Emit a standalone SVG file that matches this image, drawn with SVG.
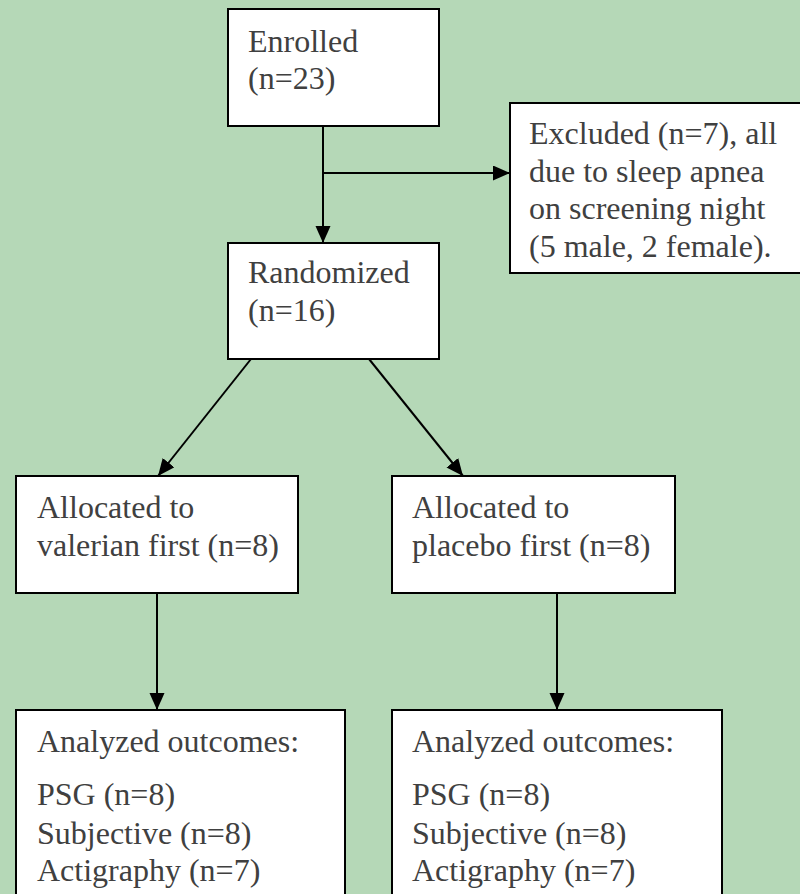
<svg xmlns="http://www.w3.org/2000/svg" width="800" height="894" viewBox="0 0 800 894">
<style>
.box{fill:#ffffff;stroke:#000000;stroke-width:2}
.lbl{font-size:32px;fill:#404040}
.conn{stroke:#000000;stroke-width:2;fill:none}
.f1{font-family:"Liberation Serif",serif}
.f2{font-family:"DejaVu Serif",serif}
.f6{font-family:serif}
</style>
<defs>
<marker id="arr" markerUnits="userSpaceOnUse" markerWidth="18" markerHeight="16" refX="17" refY="7.5" orient="auto">
<path d="M0,0 L17,7.5 L0,15 z" fill="#000000"/>
</marker>
</defs>
<g id="background">
<rect x="0" y="0" width="800" height="894" fill="#b5d8b7"/>
</g>
<g id="connectors">
<line class="conn" x1="323" y1="126" x2="323" y2="243" marker-end="url(#arr)"/>
<line class="conn" x1="323" y1="173" x2="510" y2="173" marker-end="url(#arr)"/>
<line class="conn" x1="251" y1="359" x2="158" y2="476" marker-end="url(#arr)"/>
<line class="conn" x1="369" y1="359" x2="463" y2="476" marker-end="url(#arr)"/>
<line class="conn" x1="157" y1="593" x2="157" y2="710" marker-end="url(#arr)"/>
<line class="conn" x1="557" y1="593" x2="557" y2="710" marker-end="url(#arr)"/>
</g>
<g id="enrolled" class="f1">
<rect class="box" x="228" y="9" width="211" height="117"/>
<text class="lbl" x="248" y="52" font-family="Liberation Serif">Enrolled</text>
<text class="lbl" x="248" y="89" font-family="Liberation Serif">(n=23)</text>
</g>
<g id="excluded" class="f1">
<rect class="box" x="510" y="103" width="300" height="170"/>
<text class="lbl" x="529" y="144" font-family="Liberation Serif">Excluded (n=7), all</text>
<text class="lbl" x="529" y="182" font-family="Liberation Serif">due to sleep apnea</text>
<text class="lbl" x="529" y="219" font-family="Liberation Serif">on screening night</text>
<text class="lbl" x="529" y="257" font-family="Liberation Serif">(5 male, 2 female).</text>
</g>
<g id="randomized" class="f1">
<rect class="box" x="228" y="243" width="211" height="116"/>
<text class="lbl" x="248" y="283" font-family="Liberation Serif">Randomized</text>
<text class="lbl" x="248" y="321" font-family="Liberation Serif">(n=16)</text>
</g>
<g id="alloc-valerian" class="f1">
<rect class="box" x="16" y="476" width="282" height="117"/>
<text class="lbl" x="37" y="518" font-family="Liberation Serif">Allocated to</text>
<text class="lbl" x="37" y="556" font-family="Liberation Serif">valerian first (n=8)</text>
</g>
<g id="alloc-placebo" class="f1">
<rect class="box" x="392" y="476" width="283" height="117"/>
<text class="lbl" x="412" y="518" font-family="Liberation Serif">Allocated to</text>
<text class="lbl" x="412" y="556" font-family="Liberation Serif">placebo first (n=8)</text>
</g>
<g id="analyzed-valerian" class="f1">
<rect class="box" x="16" y="710" width="329" height="200"/>
<text class="lbl" x="37" y="752" font-family="Liberation Serif">Analyzed outcomes:</text>
<text class="lbl" x="37" y="805" font-family="Liberation Serif">PSG (n=8)</text>
<text class="lbl" x="37" y="844" font-family="Liberation Serif">Subjective (n=8)</text>
<text class="lbl" x="37" y="881" font-family="Liberation Serif">Actigraphy (n=7)</text>
</g>
<g id="analyzed-placebo" class="f1">
<rect class="box" x="392" y="710" width="330" height="200"/>
<text class="lbl" x="412" y="752" font-family="Liberation Serif">Analyzed outcomes:</text>
<text class="lbl" x="412" y="805" font-family="Liberation Serif">PSG (n=8)</text>
<text class="lbl" x="412" y="844" font-family="Liberation Serif">Subjective (n=8)</text>
<text class="lbl" x="412" y="881" font-family="Liberation Serif">Actigraphy (n=7)</text>
</g>
</svg>
